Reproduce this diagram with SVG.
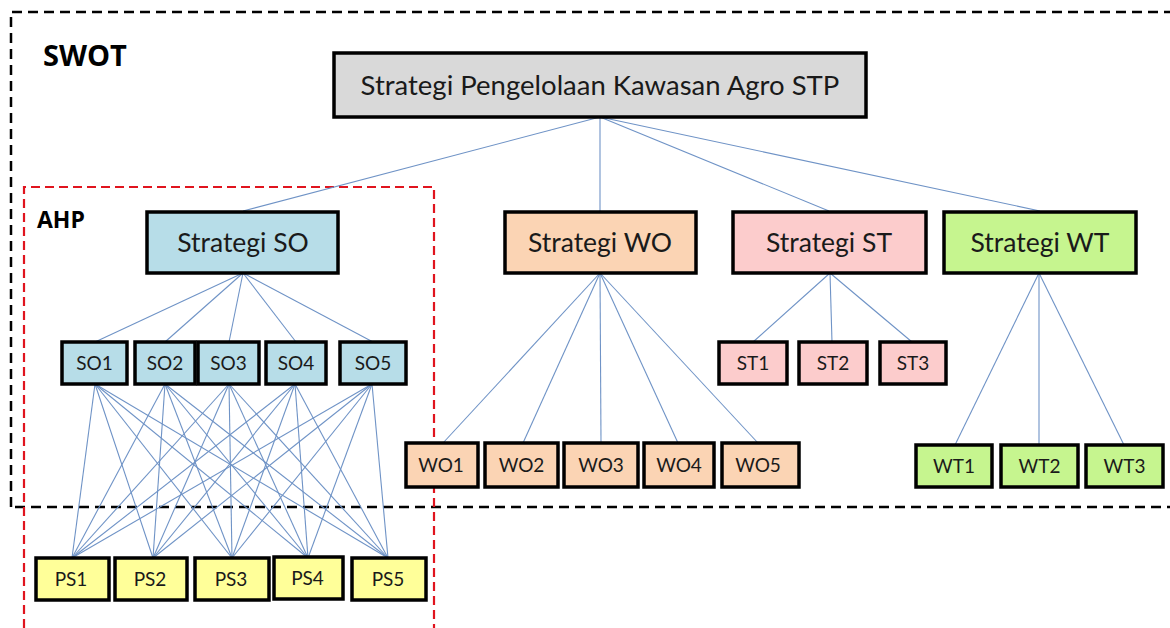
<svg xmlns="http://www.w3.org/2000/svg" width="1170" height="628" viewBox="0 0 1170 628">
<style>
.box{stroke:#000;stroke-width:3.5}
.big{font-family:Lato,"Open Sans","Liberation Sans",sans-serif;font-size:26.5px;fill:#1a1a1a;text-anchor:middle}
.top{font-size:27.5px}
.sm{font-family:Lato,"Open Sans","Liberation Sans",sans-serif;font-size:19px;fill:#1a1a1a;text-anchor:middle}
.lbl{font-family:"Open Sans","Liberation Sans",sans-serif;font-weight:bold;fill:#000}
.conn line{stroke:#6f93c6;stroke-width:1.1}
.gray{fill:#d9d9d9}.blue{fill:#b7dde8}.peach{fill:#fbd4b4}.pink{fill:#fccccc}.green{fill:#c6f58f}.yellow{fill:#ffff99}
</style>
<rect width="1170" height="628" fill="#fff"/>
<g id="frames" fill="none">
<path d="M11 507 V12 H1170" stroke="#000" stroke-width="2.5" stroke-dasharray="10 6"/>
<path d="M15 507 H1170" stroke="#000" stroke-width="2.5" stroke-dasharray="10 6"/>
<path d="M24 628 V187 H434 V628" stroke="#e0141e" stroke-width="2.2" stroke-dasharray="9 5"/>
</g>
<text class="lbl" x="43" y="66" font-size="29">SWOT</text>
<text class="lbl" x="37" y="228" font-size="23">AHP</text>
<g class="conn" id="connectors">
<line x1="600" y1="117" x2="243" y2="211"/>
<line x1="600" y1="117" x2="600" y2="211"/>
<line x1="600" y1="117" x2="829" y2="211"/>
<line x1="600" y1="117" x2="1040" y2="211"/>
<line x1="243" y1="273" x2="95" y2="342"/>
<line x1="243" y1="273" x2="165" y2="342"/>
<line x1="243" y1="273" x2="229" y2="342"/>
<line x1="243" y1="273" x2="296" y2="342"/>
<line x1="243" y1="273" x2="373" y2="342"/>
<line x1="95" y1="384" x2="72" y2="558"/><line x1="95" y1="384" x2="153" y2="558"/><line x1="95" y1="384" x2="232" y2="558"/><line x1="95" y1="384" x2="308" y2="558"/><line x1="95" y1="384" x2="388" y2="558"/>
<line x1="165" y1="384" x2="72" y2="558"/><line x1="165" y1="384" x2="153" y2="558"/><line x1="165" y1="384" x2="232" y2="558"/><line x1="165" y1="384" x2="308" y2="558"/><line x1="165" y1="384" x2="388" y2="558"/>
<line x1="229" y1="384" x2="72" y2="558"/><line x1="229" y1="384" x2="153" y2="558"/><line x1="229" y1="384" x2="232" y2="558"/><line x1="229" y1="384" x2="308" y2="558"/><line x1="229" y1="384" x2="388" y2="558"/>
<line x1="295" y1="384" x2="72" y2="558"/><line x1="295" y1="384" x2="153" y2="558"/><line x1="295" y1="384" x2="232" y2="558"/><line x1="295" y1="384" x2="308" y2="558"/><line x1="295" y1="384" x2="388" y2="558"/>
<line x1="372" y1="384" x2="72" y2="558"/><line x1="372" y1="384" x2="153" y2="558"/><line x1="372" y1="384" x2="232" y2="558"/><line x1="372" y1="384" x2="308" y2="558"/><line x1="372" y1="384" x2="388" y2="558"/>
<line x1="600" y1="273" x2="443" y2="443"/>
<line x1="600" y1="273" x2="523" y2="443"/>
<line x1="600" y1="273" x2="601" y2="443"/>
<line x1="600" y1="273" x2="678" y2="443"/>
<line x1="600" y1="273" x2="758" y2="443"/>
<line x1="830" y1="273" x2="753" y2="342"/>
<line x1="830" y1="273" x2="832" y2="342"/>
<line x1="830" y1="273" x2="912" y2="342"/>
<line x1="1039" y1="273" x2="955" y2="445"/>
<line x1="1039" y1="273" x2="1039" y2="445"/>
<line x1="1039" y1="273" x2="1124" y2="445"/>
</g>
<g id="root"><rect class="box gray" x="334" y="53" width="532" height="64"/><text class="big top" x="600" y="95">Strategi Pengelolaan Kawasan Agro STP</text></g>
<g id="strategi-so"><rect class="box blue" x="147" y="212" width="191" height="61"/><text class="big" x="243" y="252">Strategi SO</text></g>
<g id="strategi-wo"><rect class="box peach" x="505" y="212" width="191" height="61"/><text class="big" x="600" y="252">Strategi WO</text></g>
<g id="strategi-st"><rect class="box pink" x="733" y="212" width="193" height="61"/><text class="big" x="829" y="252">Strategi ST</text></g>
<g id="strategi-wt"><rect class="box green" x="944" y="212" width="192" height="61"/><text class="big" x="1040" y="252">Strategi WT</text></g>
<g id="so1"><rect class="box blue" x="62" y="342" width="65" height="42"/><text class="sm" x="94.5" y="370">SO1</text></g>
<g id="so2"><rect class="box blue" x="135" y="342" width="60" height="42"/><text class="sm" x="165" y="370">SO2</text></g>
<g id="so3"><rect class="box blue" x="198" y="342" width="61" height="42"/><text class="sm" x="228.5" y="370">SO3</text></g>
<g id="so4"><rect class="box blue" x="266" y="342" width="60" height="42"/><text class="sm" x="296" y="370">SO4</text></g>
<g id="so5"><rect class="box blue" x="340" y="342" width="66" height="42"/><text class="sm" x="373" y="370">SO5</text></g>
<g id="ps1"><rect class="box yellow" x="36" y="558" width="73" height="42"/><text class="sm" x="71" y="586">PS1</text></g>
<g id="ps2"><rect class="box yellow" x="115" y="558" width="72" height="42"/><text class="sm" x="150" y="586">PS2</text></g>
<g id="ps3"><rect class="box yellow" x="195" y="558" width="74" height="42"/><text class="sm" x="231" y="586">PS3</text></g>
<g id="ps4"><rect class="box yellow" x="274" y="557" width="69" height="42"/><text class="sm" x="307.5" y="585">PS4</text></g>
<g id="ps5"><rect class="box yellow" x="352" y="558" width="74" height="42"/><text class="sm" x="388" y="586">PS5</text></g>
<g id="wo1"><rect class="box peach" x="406" y="443" width="72" height="44"/><text class="sm" x="441" y="472">WO1</text></g>
<g id="wo2"><rect class="box peach" x="485" y="443" width="73" height="44"/><text class="sm" x="521.5" y="472">WO2</text></g>
<g id="wo3"><rect class="box peach" x="564" y="443" width="74" height="44"/><text class="sm" x="601" y="472">WO3</text></g>
<g id="wo4"><rect class="box peach" x="644" y="443" width="70" height="44"/><text class="sm" x="679" y="472">WO4</text></g>
<g id="wo5"><rect class="box peach" x="722" y="443" width="77" height="44"/><text class="sm" x="758" y="472">WO5</text></g>
<g id="st1"><rect class="box pink" x="719" y="342" width="68" height="42"/><text class="sm" x="753" y="370">ST1</text></g>
<g id="st2"><rect class="box pink" x="799" y="342" width="68" height="42"/><text class="sm" x="833" y="370">ST2</text></g>
<g id="st3"><rect class="box pink" x="880" y="342" width="66" height="42"/><text class="sm" x="913" y="370">ST3</text></g>
<g id="wt1"><rect class="box green" x="916" y="445" width="76" height="42"/><text class="sm" x="954" y="473">WT1</text></g>
<g id="wt2"><rect class="box green" x="1001" y="445" width="77" height="42"/><text class="sm" x="1039.5" y="473">WT2</text></g>
<g id="wt3"><rect class="box green" x="1086" y="445" width="77" height="42"/><text class="sm" x="1124.5" y="473">WT3</text></g>
</svg>
